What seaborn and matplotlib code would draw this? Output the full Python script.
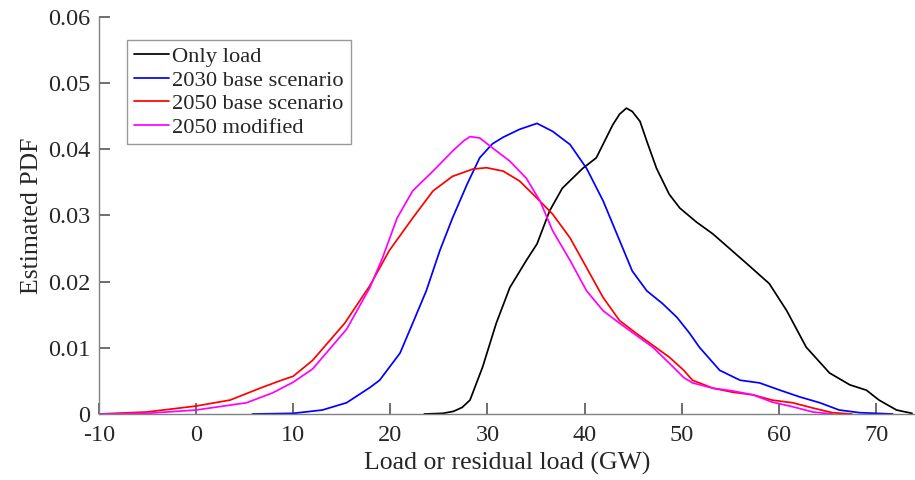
import matplotlib
matplotlib.use('Agg')
import matplotlib.pyplot as plt
import seaborn as sns

#%% data (x in GW, y = estimated PDF)

load_x = [23.5, 25.4, 26.5, 27.4, 28.2, 29.5, 30.9, 32.3, 34.0, 35.1, 36.4, 37.7,
          39.8, 41.2, 42.9, 43.6, 44.3, 44.9, 45.7, 46.4, 47.4, 48.7, 49.8, 51.5,
          53.2, 56.7, 59.0, 60.8, 62.8, 65.2, 67.3, 69.0, 70.3, 72.1, 73.7]
load_y = [0.0, 0.0001, 0.0004, 0.001, 0.0021, 0.0071, 0.0137, 0.0191, 0.0232,
          0.0257, 0.0307, 0.0341, 0.0371, 0.0387, 0.0437, 0.0453, 0.0462, 0.0457,
          0.0442, 0.0412, 0.0371, 0.0332, 0.0311, 0.0290, 0.0272, 0.0227, 0.0197,
          0.0156, 0.0101, 0.0062, 0.0044, 0.0036, 0.0021, 0.0006, 0.0001]

b2030_x = [5.8, 10.0, 13.0, 15.5, 17.9, 18.9, 21.0, 22.3, 23.7, 25.1, 26.4, 27.9,
           29.2, 30.5, 31.6, 33.3, 35.1, 36.7, 38.5, 40.2, 41.9, 43.6, 44.9, 46.4,
           48.0, 49.5, 50.8, 51.8, 53.9, 56.0, 58.0, 60.1, 62.1, 64.2, 66.2, 68.3,
           71.7]
b2030_y = [0.0, 0.0001, 0.0006, 0.0017, 0.0040, 0.0051, 0.0092, 0.0137, 0.0186,
           0.0247, 0.0296, 0.0347, 0.0387, 0.0408, 0.0418, 0.0430, 0.0439, 0.0427,
           0.0407, 0.0371, 0.0322, 0.0262, 0.0216, 0.0186, 0.0167, 0.0146, 0.0122,
           0.0101, 0.0066, 0.0051, 0.0047, 0.0036, 0.0026, 0.0017, 0.0006, 0.0002,
           0.0]

b2050_x = [-10.0, -5.1, 0.0, 3.5, 6.6, 8.6, 10.0, 12.0, 15.3, 17.9, 19.9, 22.3,
           24.4, 26.4, 28.5, 29.9, 31.6, 33.3, 35.1, 36.7, 38.5, 40.2, 41.9, 43.6,
           45.3, 47.0, 48.7, 50.2, 51.1, 53.2, 55.2, 57.3, 59.3, 61.4, 63.5, 65.5,
           67.5]
b2050_y = [0.0, 0.0003, 0.0012, 0.0021, 0.0039, 0.0050, 0.0057, 0.0081, 0.0137,
           0.0194, 0.0247, 0.0296, 0.0337, 0.0359, 0.0370, 0.0372, 0.0367, 0.0352,
           0.0326, 0.0302, 0.0266, 0.0221, 0.0176, 0.0141, 0.0122, 0.0104, 0.0086,
           0.0066, 0.0051, 0.0039, 0.0033, 0.0029, 0.0021, 0.0017, 0.0009, 0.0002,
           0.0]

m2050_x = [-10.0, -5.0, 0.0, 5.2, 7.9, 10.0, 12.0, 15.5, 17.9, 19.2, 20.7, 22.3,
           24.4, 26.4, 27.5, 28.2, 29.2, 30.5, 32.3, 34.0, 35.4, 36.7, 38.5, 40.2,
           41.9, 43.6, 45.3, 47.0, 48.7, 50.2, 51.1, 53.2, 55.2, 57.3, 59.3, 61.4,
           63.5, 65.5]
m2050_y = [0.0, 0.0001, 0.0006, 0.0017, 0.0032, 0.0048, 0.0068, 0.0128, 0.0191,
           0.0236, 0.0296, 0.0337, 0.0367, 0.0397, 0.0412, 0.0419, 0.0417, 0.0402,
           0.0382, 0.0356, 0.0322, 0.0277, 0.0232, 0.0186, 0.0156, 0.0137, 0.0119,
           0.0101, 0.0077, 0.0055, 0.0047, 0.0039, 0.0035, 0.0029, 0.0018, 0.0011,
           0.0003, 0.0]

series = [(load_x, load_y, 'Only load', '#000000'),
          (b2030_x, b2030_y, '2030 base scenario', '#0000ff'),
          (b2050_x, b2050_y, '2050 base scenario', '#ff0000'),
          (m2050_x, m2050_y, '2050 modified', '#ff00ff')]

#%% plot

sns.set_style('ticks')
plt.rcParams['font.family'] = ['Liberation Serif', 'DejaVu Serif']
plt.rcParams['axes.unicode_minus'] = False

fig = plt.figure(figsize=(9.15, 4.8), dpi=100)
ax = fig.add_axes([0.108, 0.1375, 0.892, 0.8275])

for xs, ys, name, col in series:
    sns.lineplot(x=xs, y=ys, sort=False, color=col, linewidth=1.25,
                 label=name, ax=ax)

ax.set_xlim(-10, 74)
ax.set_ylim(0, 0.06)
ax.set_xticks(range(-10, 71, 10))
ax.set_yticks([0, 0.01, 0.02, 0.03, 0.04, 0.05, 0.06])
ax.set_yticklabels(['0', '0.01', '0.02', '0.03', '0.04', '0.05', '0.06'])

sns.despine(ax=ax)
for side in ['left', 'bottom']:
    ax.spines[side].set_color('#808080')
    ax.spines[side].set_linewidth(1.0)
ax.tick_params(which='major', bottom=True, left=True, direction='in',
               length=8, width=1.2, color='#555555', labelsize=17.5,
               labelcolor='#262626', pad=6)
ax.tick_params(axis='x', pad=8)

ax.set_xlabel('Load or residual load (GW)', fontsize=18.5, color='#262626')
ax.set_ylabel('Estimated PDF', fontsize=18.5, color='#262626')

leg = ax.legend(loc='upper left', bbox_to_anchor=(0.035, 0.942), fontsize=16.2,
                frameon=True, fancybox=False, borderaxespad=0,
                handlelength=1.55, handletextpad=0.15, labelspacing=0.12,
                borderpad=0.3)
leg.get_frame().set_edgecolor('#808080')
leg.get_frame().set_linewidth(1.0)
for t in leg.get_texts():
    t.set_color('#262626')

fig.savefig('out.png', dpi=100)
